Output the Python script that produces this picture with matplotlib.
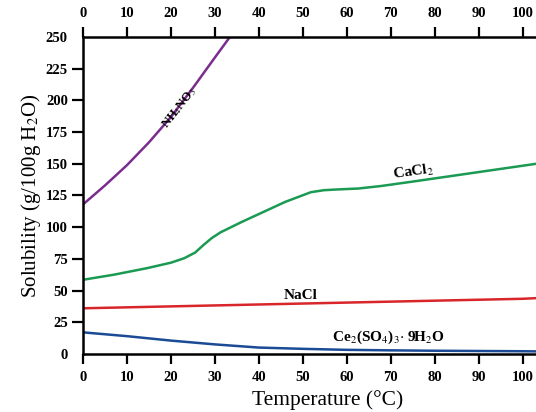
import numpy as np
import matplotlib.pyplot as plt

# values (temperature in C, solubility in g/100g H2O)
nh4no3_t = [0, 5, 10, 15, 20, 25, 30, 34]
nh4no3_s = [118, 133, 149, 167, 187, 210, 234, 253]

cacl2_t = [0, 7, 14.6, 20, 23, 25.5, 27.4, 29.3, 31.3, 36, 41, 46, 51.8, 54.8, 58, 62.6, 67.8, 75, 85, 95, 103]
cacl2_s = [58.5, 62.5, 67.7, 72, 75.5, 80, 86, 91.5, 96, 104, 112, 120, 127.6, 129.2, 129.8, 130.5, 132.5, 136, 141, 146, 150]

nacl_t = [0, 20, 40, 60, 80, 100, 103]
nacl_s = [36, 37.5, 39, 40.5, 42, 43.5, 44]

ce_t = [0, 10, 20, 30, 40, 50, 60, 70, 80, 90, 100, 103]
ce_s = [17, 14, 10.5, 7.5, 5, 4, 3.2, 2.8, 2.5, 2.3, 2.1, 2]

xticks = list(range(0, 101, 10))
yticks = list(range(0, 251, 25))

plt.rcParams['font.family'] = ['Liberation Serif', 'DejaVu Serif']
plt.rcParams['mathtext.fontset'] = 'stix'

fig = plt.figure(figsize=(5.36, 4.12), dpi=100)
ax = fig.add_axes([0.155, 0.141, 0.845, 0.769])

ax.plot(nh4no3_t, nh4no3_s, color='#7b2d8e', lw=1.8)
ax.plot(cacl2_t, cacl2_s, color='#1a9a52', lw=1.8)
ax.plot(nacl_t, nacl_s, color='#d9262b', lw=1.8)
ax.plot(ce_t, ce_s, color='#1b4b95', lw=1.8)

ax.set_xlim(0, 103)
ax.set_ylim(0, 250)

ax.set_xticks(xticks)
ax.set_yticks(yticks)
ax.tick_params(axis='x', top=True, labeltop=True, direction='out', length=7, width=1.6,
               labelsize=10.5, pad=5)
ax.tick_params(axis='y', direction='out', length=8, width=1.6, labelsize=10.5, pad=3)
for lab in ax.get_xticklabels() + ax.get_yticklabels():
    lab.set_fontweight('bold')
yt = ax.yaxis.get_major_ticks()
yt[0].tick1line.set_visible(False)
yt[-1].tick1line.set_visible(False)

for s in ['left', 'top', 'bottom']:
    ax.spines[s].set_linewidth(1.8)
ax.spines['right'].set_visible(False)

ax.set_xlabel('Temperature (°C)', fontsize=15.5, labelpad=6)
ax.xaxis.set_label_coords(0.54, -0.115)
ax.set_ylabel('Solubility (g/100g H$_2$O)', fontsize=15, labelpad=2)

ax.text(22, 194, 'NH$_4$NO$_3$', rotation=52, fontsize=9, fontweight='bold',
        ha='center', va='center')
ax.text(75, 143.5, 'CaCl$_2$', rotation=8, fontsize=11, fontweight='bold',
        ha='center', va='center')
ax.text(49.5, 46, 'NaCl', fontsize=11, fontweight='bold', ha='center', va='center')
ax.text(69.5, 13, 'Ce$_2$(SO$_4$)$_3$$\\cdot$ 9H$_2$O', fontsize=11, fontweight='bold',
        ha='center', va='center')

fig.savefig('out.png', dpi=100)
